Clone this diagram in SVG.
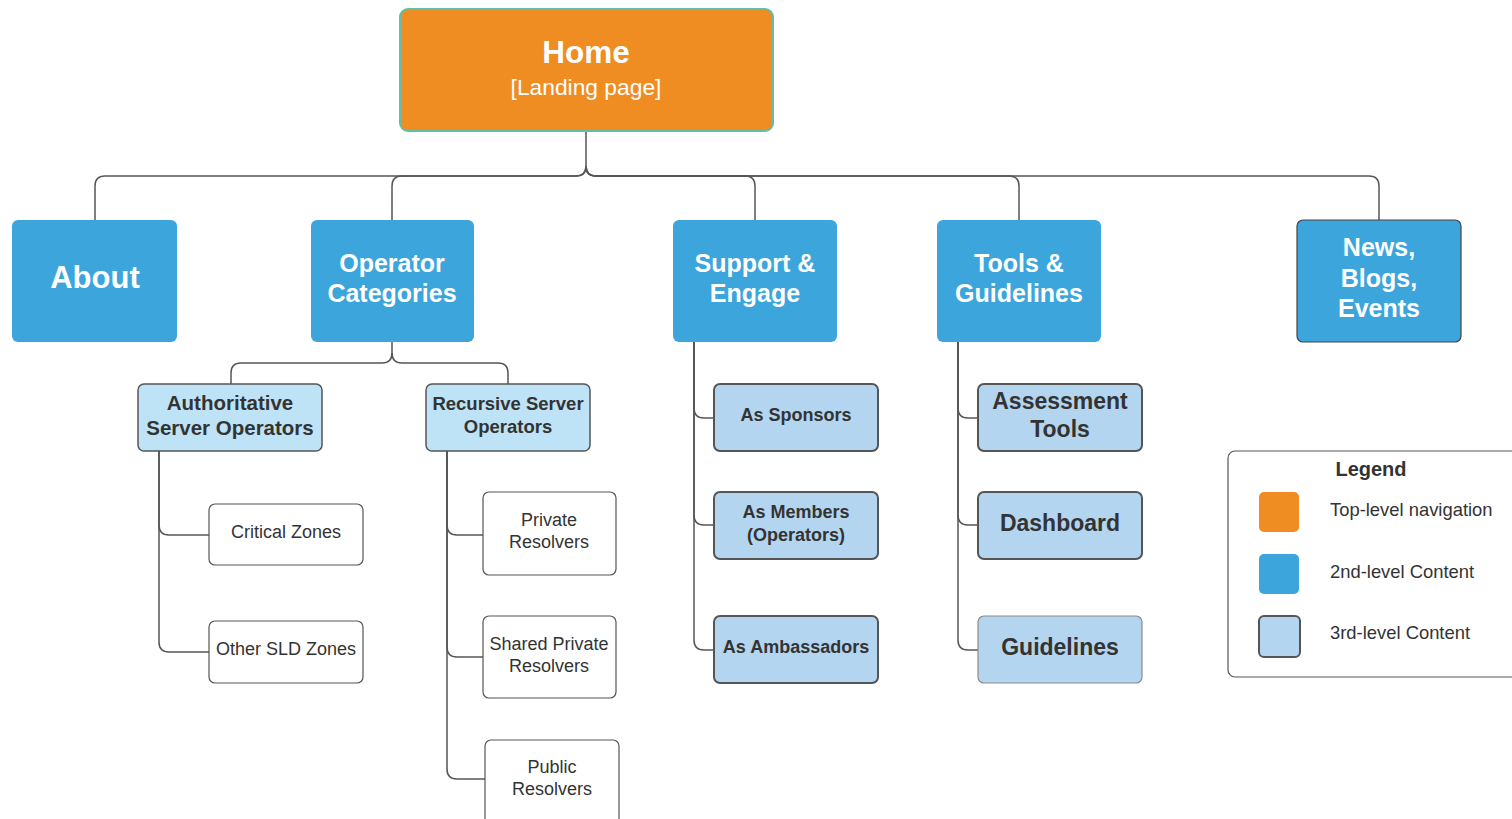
<svg xmlns="http://www.w3.org/2000/svg" width="1512" height="819" viewBox="0 0 1512 819">
<style>
text{font-family:"Liberation Sans",Arial,sans-serif;text-anchor:middle}
.c{fill:none;stroke:#555;stroke-width:1.5}
.l2{fill:#3ca5dc}
.l2t{fill:#fff;font-weight:bold;font-size:25px}
.sub{fill:#bee3f6;stroke:#555;stroke-width:1.5}
.l3{fill:#b4d5ef;stroke:#555;stroke-width:2}
.l3t{fill:#333;font-weight:bold;font-size:18px}
.l3b{fill:#333;font-weight:bold;font-size:23px}
.leaf{fill:#fff;stroke:#555;stroke-width:1.2}
.lt{fill:#333;font-size:18px}
.lg{fill:#333;font-size:18.4px;text-anchor:start}
</style>
<rect width="1512" height="819" fill="#fff"/>
<g id="connectors">
<path class="c" d="M586,131 V166 Q586,176 576,176 H105 Q95,176 95,186 V220"/>
<path class="c" d="M586,166 Q586,176 576,176 H402 Q392,176 392,186 V220"/>
<path class="c" d="M586,166 Q586,176 596,176 H745 Q755,176 755,186 V220"/>
<path class="c" d="M586,166 Q586,176 596,176 H1009 Q1019,176 1019,186 V220"/>
<path class="c" d="M586,166 Q586,176 596,176 H1369 Q1379,176 1379,186 V220"/>
<path class="c" d="M392,342 V353 Q392,363 382,363 H241 Q231,363 231,373 V384"/>
<path class="c" d="M392,353 Q392,363 402,363 H498 Q508,363 508,373 V384"/>
<path class="c" d="M159,451 V525 Q159,535 169,535 H209"/>
<path class="c" d="M159,451 V642 Q159,652 169,652 H209"/>
<path class="c" d="M447,451 V525 Q447,535 457,535 H483"/>
<path class="c" d="M447,451 V647 Q447,657 457,657 H483"/>
<path class="c" d="M447,451 V769 Q447,779 457,779 H485"/>
<path class="c" d="M694,342 V408 Q694,418 704,418 H714"/>
<path class="c" d="M694,342 V515 Q694,525 704,525 H714"/>
<path class="c" d="M694,342 V640 Q694,650 704,650 H714"/>
<path class="c" d="M958,342 V408 Q958,418 968,418 H978"/>
<path class="c" d="M958,342 V515 Q958,525 968,525 H978"/>
<path class="c" d="M958,342 V640 Q958,650 968,650 H978"/>
</g>
<g id="home">
<rect x="400" y="9" width="373" height="122" rx="8" fill="#ef8c22" stroke="#5fc0a8" stroke-width="2"/>
<text x="586" y="63" fill="#fff" font-weight="bold" font-size="31.5">Home</text>
<text x="586" y="95" fill="#fff" font-size="22.8">[Landing page]</text>
</g>
<g id="about">
<rect class="l2" x="12" y="220" width="165" height="122" rx="6"/>
<text class="l2t" x="95" y="288" style="font-size:31px">About</text>
</g>
<g id="operator">
<rect class="l2" x="311" y="220" width="163" height="122" rx="6"/>
<text class="l2t" x="392" y="272">Operator</text>
<text class="l2t" x="392" y="302">Categories</text>
</g>
<g id="support">
<rect class="l2" x="673" y="220" width="164" height="122" rx="6"/>
<text class="l2t" x="755" y="272">Support &amp;</text>
<text class="l2t" x="755" y="302">Engage</text>
</g>
<g id="tools">
<rect class="l2" x="937" y="220" width="164" height="122" rx="6"/>
<text class="l2t" x="1019" y="272">Tools &amp;</text>
<text class="l2t" x="1019" y="302">Guidelines</text>
</g>
<g id="news">
<rect class="l2" x="1297" y="220" width="164" height="122" rx="6" style="stroke:#444;stroke-width:1.2"/>
<text class="l2t" x="1379" y="256">News,</text>
<text class="l2t" x="1379" y="287">Blogs,</text>
<text class="l2t" x="1379" y="317">Events</text>
</g>
<g id="authoritative">
<rect class="sub" x="138" y="384" width="184" height="67" rx="6"/>
<text x="230" y="410" fill="#333" font-weight="bold" font-size="20.5">Authoritative</text>
<text x="230" y="435" fill="#333" font-weight="bold" font-size="20.5">Server Operators</text>
</g>
<g id="recursive">
<rect class="sub" x="426" y="384" width="164" height="67" rx="6"/>
<text x="508" y="410" fill="#333" font-weight="bold" font-size="18.5">Recursive Server</text>
<text x="508" y="433" fill="#333" font-weight="bold" font-size="18.5">Operators</text>
</g>
<g id="critical">
<rect class="leaf" x="209" y="504" width="154" height="61" rx="6"/>
<text class="lt" x="286" y="538">Critical Zones</text>
</g>
<g id="othersld">
<rect class="leaf" x="209" y="621" width="154" height="62" rx="6"/>
<text class="lt" x="286" y="655">Other SLD Zones</text>
</g>
<g id="private">
<rect class="leaf" x="483" y="492" width="133" height="83" rx="6"/>
<text class="lt" x="549" y="526">Private</text>
<text class="lt" x="549" y="548">Resolvers</text>
</g>
<g id="shared">
<rect class="leaf" x="483" y="616" width="133" height="82" rx="6"/>
<text class="lt" x="549" y="650">Shared Private</text>
<text class="lt" x="549" y="672">Resolvers</text>
</g>
<g id="public">
<rect class="leaf" x="485" y="740" width="134" height="85" rx="6"/>
<text class="lt" x="552" y="773">Public</text>
<text class="lt" x="552" y="795">Resolvers</text>
</g>
<g id="sponsors">
<rect class="l3" x="714" y="384" width="164" height="67" rx="6"/>
<text class="l3t" x="796" y="421">As Sponsors</text>
</g>
<g id="members">
<rect class="l3" x="714" y="492" width="164" height="67" rx="6"/>
<text class="l3t" x="796" y="518">As Members</text>
<text class="l3t" x="796" y="541">(Operators)</text>
</g>
<g id="ambassadors">
<rect class="l3" x="714" y="616" width="164" height="67" rx="6"/>
<text class="l3t" x="796" y="653">As Ambassadors</text>
</g>
<g id="assessment">
<rect class="l3" x="978" y="384" width="164" height="67" rx="6"/>
<text class="l3b" x="1060" y="409">Assessment</text>
<text class="l3b" x="1060" y="437">Tools</text>
</g>
<g id="dashboard">
<rect class="l3" x="978" y="492" width="164" height="67" rx="6"/>
<text class="l3b" x="1060" y="531">Dashboard</text>
</g>
<g id="guidelines">
<rect class="l3" x="978" y="616" width="164" height="67" rx="6" style="stroke:#8a8a8a;stroke-width:1.2"/>
<text class="l3b" x="1060" y="655">Guidelines</text>
</g>
<g id="legend">
<rect x="1228" y="451" width="300" height="226" rx="7" fill="#fff" stroke="#555" stroke-width="1.2"/>
<text x="1371" y="476" fill="#333" font-weight="bold" font-size="20">Legend</text>
<rect x="1259" y="492" width="40" height="40" rx="5" fill="#ef8c22"/>
<rect x="1259" y="554" width="40" height="40" rx="5" fill="#3ca5dc"/>
<rect x="1259" y="616" width="41" height="41" rx="5" fill="#b4d5ef" stroke="#555" stroke-width="2"/>
<text class="lg" x="1330" y="516">Top-level navigation</text>
<text class="lg" x="1330" y="578">2nd-level Content</text>
<text class="lg" x="1330" y="639">3rd-level Content</text>
</g>
</svg>
